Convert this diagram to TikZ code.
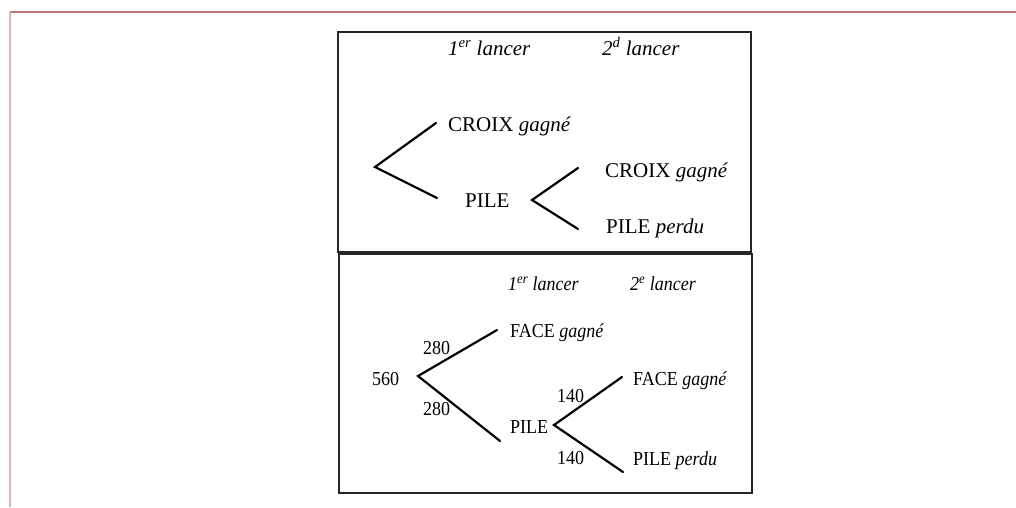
\documentclass[tikz,border=0pt]{standalone}
\usepackage{fontspec}
\setmainfont{Liberation Serif}
\definecolor{edgetop}{RGB}{196,116,116}
\definecolor{edgeleft}{RGB}{226,180,188}
\newcommand{\tallish}[1]{\scalebox{1}[1.1]{#1}}
\begin{document}
\begin{tikzpicture}[x=1pt,y=-1pt,
  big/.style={font=\fontsize{21}{24}\selectfont, inner sep=0pt, anchor=base west},
  small/.style={font=\fontsize{18}{22}\selectfont, inner sep=0pt, anchor=base west},
  branch/.style={line width=2.2pt, line cap=round},
  frame/.style={draw=black!85, line width=1.3pt}]
\useasboundingbox (0,0) rectangle (1016,507);
% page edges
\draw[edgetop, line width=1.2pt] (10,12) -- (1016,12);
\draw[edgeleft, line width=2pt] (10,12) -- (10,507);
% frames
\draw[frame] (338,32) rectangle (751,252);
\draw[frame] (339,254) rectangle (752,493);
% ---- top tree
\node[big] (h1) at (448,55) {\itshape 1\textsuperscript{er} lancer};
\node[big] (h2) at (602,55) {\itshape 2\textsuperscript{d} lancer};
\node[big] (c1) at (448,131) {CROIX \textit{gagné}};
\node[big] (p1) at (465,207) {PILE};
\node[big] (c2) at (605,177) {CROIX \textit{gagné}};
\node[big] (p2) at (606,233) {PILE \textit{perdu}};
\coordinate (r1) at (375,167);
\coordinate (e1) at (436,123);
\coordinate (e2) at (437,198);
\coordinate (r2) at (532,200);
\coordinate (e3) at (578,168);
\coordinate (e4) at (578,229);
\draw[branch] (e1) -- (r1) -- (e2);
\draw[branch] (e3) -- (r2) -- (e4);
% ---- bottom tree
\node[small] (h3) at (508,290) {\tallish{\itshape 1\textsuperscript{er} lancer}};
\node[small] (h4) at (630,290) {\tallish{\itshape 2\textsuperscript{e} lancer}};
\node[small] (f1) at (510,337) {\tallish{FACE \textit{gagné}}};
\node[small] (n280a) at (423,354) {\tallish{280}};
\node[small] (n560) at (372,385) {\tallish{560}};
\node[small] (n280b) at (423,415) {\tallish{280}};
\node[small] (p3) at (510,433) {\tallish{PILE}};
\node[small] (n140a) at (557,402) {\tallish{140}};
\node[small] (n140b) at (557,464) {\tallish{140}};
\node[small] (f2) at (633,385) {\tallish{FACE \textit{gagné}}};
\node[small] (p4) at (633,465) {\tallish{PILE \textit{perdu}}};
\coordinate (r3) at (418,376);
\coordinate (e5) at (497,330);
\coordinate (e6) at (500,441);
\coordinate (r4) at (554,425);
\coordinate (e7) at (622,377);
\coordinate (e8) at (623,472);
\draw[branch] (e5) -- (r3) -- (e6);
\draw[branch] (e7) -- (r4) -- (e8);
\end{tikzpicture}
\end{document}
